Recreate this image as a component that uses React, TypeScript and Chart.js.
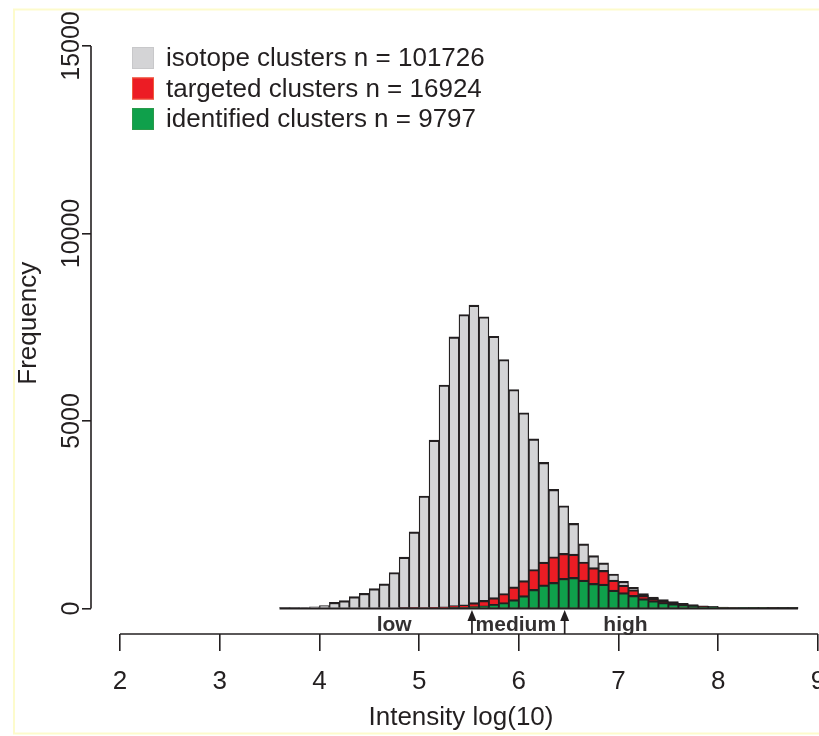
import React, { useEffect, useRef } from 'react';
import { Chart, registerables } from 'chart.js';

Chart.register(...registerables);

// ---- data ----
const binStarts = [
  3.6, 3.7, 3.8, 3.9, 4.0, 4.1, 4.2, 4.3, 4.4, 4.5, 4.6, 4.7, 4.8, 4.9,
  5.0, 5.1, 5.2, 5.3, 5.4, 5.5, 5.6, 5.7, 5.8, 5.9, 6.0, 6.1, 6.2, 6.3,
  6.4, 6.5, 6.6, 6.7, 6.8, 6.9, 7.0, 7.1, 7.2, 7.3, 7.4, 7.5, 7.6, 7.7,
  7.8, 7.9, 8.0, 8.1, 8.2, 8.3, 8.4, 8.5, 8.6, 8.7,
];
const BIN_WIDTH = 0.1;

const isotopeCounts = [
  5, 10, 20, 45, 80, 165, 210, 315, 405, 530, 655, 960, 1370, 2045,
  3000, 4490, 5960, 7245, 7840, 8090, 7780, 7260, 6640, 5840, 5220, 4525, 3895, 3175,
  2740, 2270, 1725, 1410, 1215, 920, 725, 565, 395, 305, 235, 185, 140, 105,
  70, 55, 40, 32, 25, 20, 15, 10, 7, 4,
];
const targetedCounts = [
  0, 0, 0, 0, 0, 0, 0, 0, 0, 0, 0, 0, 5, 10,
  20, 30, 45, 75, 95, 155, 215, 290, 400, 578, 742, 1040, 1235, 1380,
  1470, 1450, 1240, 1090, 1015, 758, 622, 500, 350, 270, 200, 155, 115, 85,
  60, 45, 32, 25, 20, 15, 12, 8, 5, 3,
];
const identifiedCounts = [
  0, 0, 0, 0, 0, 0, 0, 0, 0, 0, 0, 0, 0, 0,
  0, 0, 0, 10, 25, 48, 70, 110, 160, 235, 342, 508, 630, 695,
  805, 830, 758, 668, 648, 493, 422, 348, 262, 208, 160, 120, 85, 60,
  45, 35, 25, 20, 15, 12, 9, 6, 4, 2,
];

const seriesLabels = [
  'isotope clusters n = 101726',
  'targeted clusters n = 16924',
  'identified clusters n = 9797',
];
const seriesColors = ['#d4d4d6', '#ec1c24', '#0fa04b'];
const seriesLegendBorders = ['#c8c8ca', '#f05a3c', '#2a9a4a'];

const xTicks = [2, 3, 4, 5, 6, 7, 8, 9];
const yTicks = [0, 5000, 10000, 15000];

const thresholds = [5.53, 6.46];
const groupLabels = ['low', 'medium', 'high'];
const groupLabelX = [4.75, 5.97, 7.07];

const xTitle = 'Intensity log(10)';
const yTitle = 'Frequency';

// ---- styling ----
const INK = '#231f20';
const FONT = '"Liberation Sans", Arial, Helvetica, sans-serif';
const CANVAS_W = 845;
const CANVAS_H = 736;

const overlayPlugin = {
  id: 'rStyleOverlay',
  afterDatasetsDraw(chart: any) {
    const { ctx } = chart;
    const xs = chart.scales.x;
    const ys = chart.scales.y;
    ctx.save();
    // baseline of histogram (zero-height bins drawn as a line, like R)
    const y0 = ys.getPixelForValue(0);
    ctx.strokeStyle = INK;
    ctx.lineWidth = 2.2;
    ctx.beginPath();
    ctx.moveTo(xs.getPixelForValue(binStarts[0]), y0);
    ctx.lineTo(xs.getPixelForValue(binStarts[binStarts.length - 1] + BIN_WIDTH), y0);
    ctx.stroke();
    ctx.restore();
  },
  afterDraw(chart: any) {
    const { ctx, chartArea } = chart;
    const xs = chart.scales.x;
    const ys = chart.scales.y;
    ctx.save();

    // faint yellow frame of the original figure
    ctx.strokeStyle = '#fdfbcc';
    ctx.lineWidth = 2;
    ctx.strokeRect(14, 9.5, 900, 724);

    ctx.strokeStyle = INK;
    ctx.fillStyle = INK;
    ctx.lineWidth = 1.6;

    // x axis line
    const xa = chartArea.bottom;
    ctx.beginPath();
    ctx.moveTo(xs.getPixelForValue(xTicks[0]), xa);
    ctx.lineTo(xs.getPixelForValue(xTicks[xTicks.length - 1]), xa);
    ctx.stroke();

    // y axis line
    const ya = chartArea.left;
    ctx.beginPath();
    ctx.moveTo(ya, ys.getPixelForValue(yTicks[0]));
    ctx.lineTo(ya, ys.getPixelForValue(yTicks[yTicks.length - 1]));
    ctx.stroke();

    // y tick labels, rotated
    ctx.font = `25px ${FONT}`;
    ctx.textAlign = 'center';
    ctx.textBaseline = 'alphabetic';
    for (const t of ys.ticks) {
      const py = ys.getPixelForValue(t.value);
      ctx.save();
      ctx.translate(79, py);
      ctx.rotate(-Math.PI / 2);
      ctx.fillText(String(t.value), 0, 0);
      ctx.restore();
    }

    // axis titles
    ctx.font = `26px ${FONT}`;
    const xMid = (xs.getPixelForValue(xTicks[0]) + xs.getPixelForValue(xTicks[xTicks.length - 1])) / 2;
    ctx.fillText(xTitle, xMid - 8, 725);
    const yMid = (ys.getPixelForValue(yTicks[0]) + ys.getPixelForValue(yTicks[yTicks.length - 1])) / 2;
    ctx.save();
    ctx.translate(36, yMid - 4);
    ctx.rotate(-Math.PI / 2);
    ctx.fillText(yTitle, 0, 0);
    ctx.restore();

    // legend
    const rowTops = [47, 77.5, 108];
    ctx.textAlign = 'left';
    ctx.textBaseline = 'middle';
    ctx.font = `26px ${FONT}`;
    chart.data.datasets
      .slice()
      .sort((a: any, b: any) => a.legendIndex - b.legendIndex)
      .forEach((ds: any, i: number) => {
        const top = rowTops[i];
        ctx.fillStyle = ds.backgroundColor;
        ctx.fillRect(132, top, 22, 22);
        ctx.strokeStyle = seriesLegendBorders[ds.legendIndex];
        ctx.lineWidth = 1;
        ctx.strokeRect(132.5, top + 0.5, 21, 21);
        ctx.fillStyle = INK;
        ctx.fillText(ds.label, 166, top + 12);
      });

    // intensity-class arrows
    ctx.strokeStyle = INK;
    ctx.fillStyle = INK;
    ctx.lineWidth = 1.7;
    for (const t of thresholds) {
      const px = xs.getPixelForValue(t);
      ctx.beginPath();
      ctx.moveTo(px, xa);
      ctx.lineTo(px, 618);
      ctx.stroke();
      ctx.beginPath();
      ctx.moveTo(px, 610);
      ctx.lineTo(px - 4.5, 621);
      ctx.lineTo(px + 4.5, 621);
      ctx.closePath();
      ctx.fill();
    }

    // class labels
    ctx.font = `bold 21px ${FONT}`;
    ctx.textAlign = 'center';
    ctx.textBaseline = 'alphabetic';
    ctx.fillStyle = '#333031';
    groupLabels.forEach((lab, i) => {
      ctx.fillText(lab, xs.getPixelForValue(groupLabelX[i]), 631);
    });

    ctx.restore();
  },
};

function makeDataset(label: string, counts: number[], color: string, order: number, legendIndex: number) {
  return {
    label,
    data: binStarts.map((s, i) => ({ x: s + BIN_WIDTH / 2, y: counts[i] })),
    backgroundColor: color,
    borderColor: INK,
    borderWidth: { top: 2.2, left: 1.3, right: 1.3, bottom: 0 },
    borderSkipped: false,
    barPercentage: 1,
    categoryPercentage: 1,
    grouped: false,
    order,
    legendIndex,
  };
}

export default function App() {
  const canvasRef = useRef<HTMLCanvasElement | null>(null);

  useEffect(() => {
    document.body.style.margin = '0';
    document.body.style.overflow = 'hidden';
    const canvas = canvasRef.current;
    if (!canvas) return;

    const chart = new Chart(canvas, {
      type: 'bar',
      data: {
        datasets: [
          makeDataset(seriesLabels[0], isotopeCounts, seriesColors[0], 3, 0),
          makeDataset(seriesLabels[1], targetedCounts, seriesColors[1], 2, 1),
          makeDataset(seriesLabels[2], identifiedCounts, seriesColors[2], 1, 2),
        ] as any,
      },
      options: {
        responsive: false,
        animation: false,
        devicePixelRatio: 1,
        events: [],
        layout: { padding: { top: 46, left: 0, right: 0, bottom: 0 } },
        plugins: {
          legend: { display: false },
          tooltip: { enabled: false },
        },
        scales: {
          x: {
            type: 'linear',
            min: 1.709,
            max: 1.709 + (CANVAS_W - 91) / 99.7,
            offset: false,
            afterBuildTicks: (s: any) => {
              s.ticks = xTicks.map((v) => ({ value: v }));
            },
            afterFit: (s: any) => {
              s.height = CANVAS_H - 634;
            },
            border: { display: false },
            grid: {
              display: true,
              drawOnChartArea: false,
              drawTicks: true,
              tickLength: 17,
              color: INK,
              lineWidth: 1.6,
              offset: false,
            },
            ticks: {
              color: INK,
              padding: 15,
              maxRotation: 0,
              minRotation: 0,
              autoSkip: false,
              font: { family: FONT, size: 26 },
              callback: (v: any) => String(v),
            },
          },
          y: {
            type: 'linear',
            min: -680,
            max: 15000,
            afterBuildTicks: (s: any) => {
              s.ticks = yTicks.map((v) => ({ value: v }));
            },
            afterFit: (s: any) => {
              s.width = 91;
            },
            border: { display: false },
            grid: {
              display: true,
              drawOnChartArea: false,
              drawTicks: true,
              tickLength: 9,
              color: INK,
              lineWidth: 1.6,
            },
            ticks: { display: false },
          },
        },
      },
      plugins: [overlayPlugin],
    });

    return () => chart.destroy();
  }, []);

  return (
    <div style={{ position: 'absolute', left: 0, top: 0, width: 819, height: 736, overflow: 'hidden', background: '#fff' }}>
      <canvas ref={canvasRef} width={CANVAS_W} height={CANVAS_H} style={{ width: CANVAS_W, height: CANVAS_H, display: 'block' }} />
    </div>
  );
}
